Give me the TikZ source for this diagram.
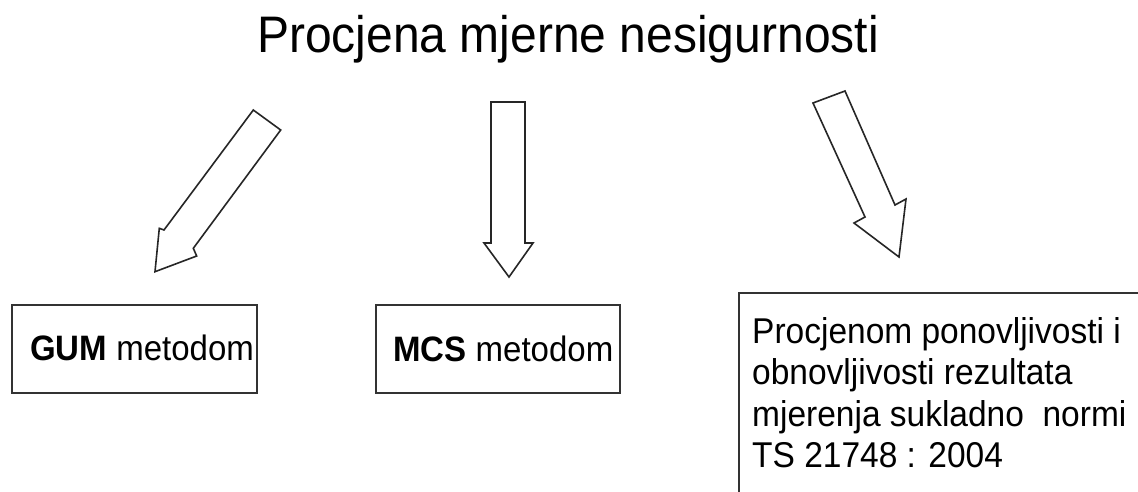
\documentclass[tikz,border=0pt]{standalone}
\usepackage{fontspec}
\setmainfont{Liberation Sans}
\usepackage{graphicx}
\begin{document}
\begin{tikzpicture}[x=1pt,y=-1pt,
  blockarrow/.style={draw=black!85, line width=1.6pt, line join=miter, fill=white},
  boxnode/.style={draw=black!80, line width=1.6pt, fill=none, inner sep=0pt, anchor=north west},
  txt/.style={inner sep=0pt, anchor=base west, text=black}]
\useasboundingbox (0,0) rectangle (1138,491);
\clip (0,0) rectangle (1138,491);
\fill[white] (0,0) rectangle (1138,491);
% title
\node[txt] (title) at (257,52) {\scalebox{1}[1.07]{\fontsize{48}{55}\selectfont Procjena mjerne nesigurnosti}};
% block arrows
\draw[blockarrow] (253.3,110) -- (280.7,130) -- (193.3,248.3) -- (196.7,256) -- (155,271.7) -- (159.3,228.3) -- (164,230) -- cycle;
\draw[blockarrow] (491,102) -- (525,102) -- (525,243) -- (533,243) -- (509,277) -- (484,243) -- (491,243) -- cycle;
\draw[blockarrow] (813,103) -- (845,91) -- (895,205) -- (906,199) -- (899,257) -- (854,223) -- (865,217) -- cycle;
% boxes
\node[boxnode, minimum width=245pt, minimum height=88pt] (gum) at (11,304) {};
\node[boxnode, minimum width=244pt, minimum height=88pt] (mcs) at (375,304) {};
\node[boxnode, minimum width=500pt, minimum height=300pt] (ts) at (738,292) {};
% texts
\node[txt] (gumtxt) at (30,360) {\scalebox{1}[1.07]{\fontsize{33}{38}\selectfont\textbf{GUM} metodom}};
\node[txt] (mcstxt) at (393,361) {\scalebox{1}[1.07]{\fontsize{33}{38}\selectfont\textbf{MCS} metodom}};
\node[txt] (tstxt) at (752,343) {\scalebox{1}[1.07]{\fontsize{33.5}{38.8}\selectfont\begin{tabular}[t]{@{}l@{}}Procjenom ponovljivosti i\\ obnovljivosti rezultata\\ mjerenja sukladno\ \ normi\\ TS 21748 : 2004\end{tabular}}};
\end{tikzpicture}
\end{document}
